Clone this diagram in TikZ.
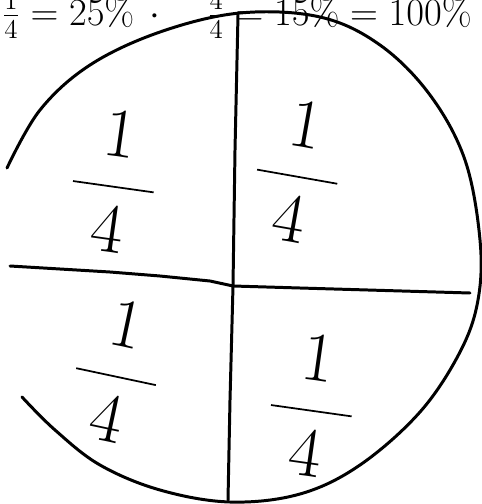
\RequirePackage{fix-cm}
\documentclass[tikz,border=0pt]{standalone}
\usepackage{tikz}
\usepackage{amsmath}
\usetikzlibrary{positioning}

\tikzset{
  pen/.style={line width=1.7pt, line cap=round, line join=round},
  quarter/.style={font=\fontsize{40}{44}\selectfont, inner sep=0pt},
  note/.style={font=\fontsize{22}{25}\selectfont, inner sep=0pt}
}
\newcommand{\qfrac}{$\dfrac{\hspace{0.35em}1\hspace{0.35em}}{4}$}

\begin{document}
\begin{tikzpicture}[x=0.02cm, y=-0.02cm]
                \useasboundingbox (0,0) rectangle (482,504);
                \clip (0,0) rectangle (482,504);

                % Heading, cut off at the top
                \node[note, anchor=base west] (hd) at (2,25)
                  {$\frac{1}{4}=25\%\,\cdot\quad\frac{4}{4}=15\%=100\%$};

                % Circle
                \draw[pen] plot[smooth, tension=0.6] coordinates {
                  (7,168) (40,110) (90,65) (160,32) (240,13) (320,17) (380,45)
                  (430,95) (465,160) (480,240) (478,300) (460,352) (420,412)
                  (360,465) (300,494) (230,502) (160,490) (100,465) (55,430) (22,397)};

                % Dividing lines
                \coordinate (mid) at (233,286);
                \draw[pen] (238,15) -- (235,150) -- (mid) -- (230,400) -- (228,500);
                \draw[pen] (10,266) -- (110,272) -- (160,276) -- (210,281) -- (mid)
                  -- (300,288) -- (470,293);

                % Quarters
                \node[quarter, rotate=-8] (tl) at (114,182) {\qfrac};
                \node[quarter, rotate=-10] (tr) at (298,172) {\qfrac};
                \node[quarter, rotate=-12] (bl) at (117,372) {\qfrac};
                \node[quarter, rotate=-8] (br) at (312,406) {\qfrac};
            \end{tikzpicture}
\end{document}
